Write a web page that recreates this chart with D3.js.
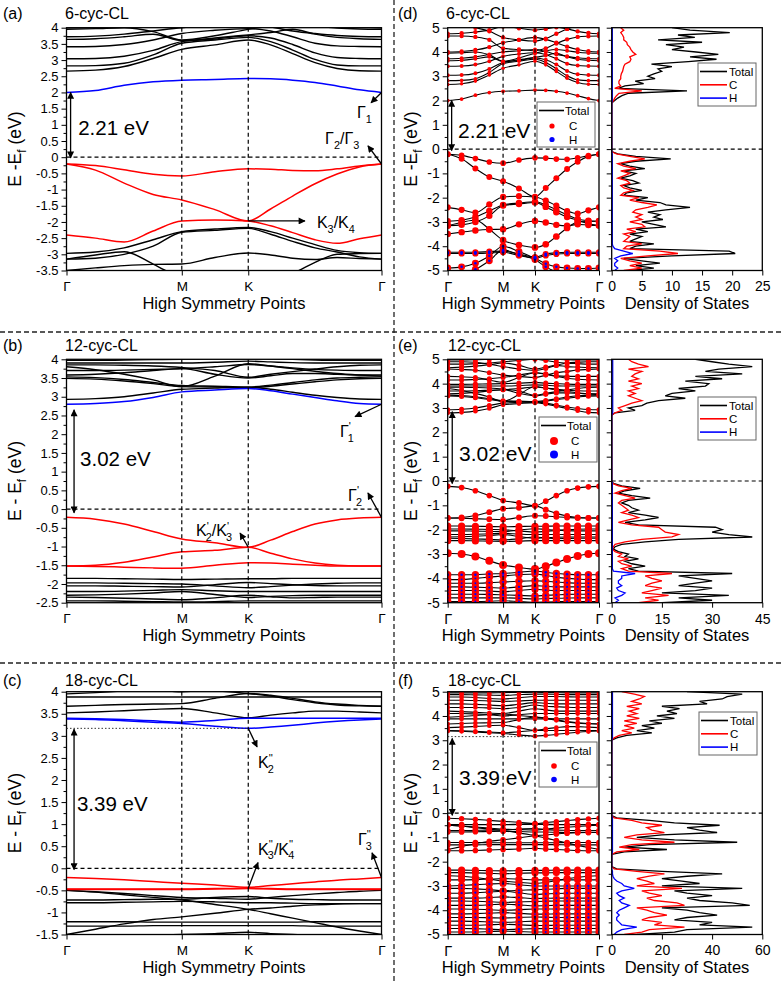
<!DOCTYPE html>
<html>
<head>
<meta charset="utf-8">
<script src="https://cdn.jsdelivr.net/npm/d3@7"></script>
<style>
body { margin: 0; background: #fff; }
svg { display: block; font-family: "Liberation Sans", Arial, sans-serif; }
</style>
</head>
<body>
<div id="chart"></div>
<script>
var W = 782, H = 982;

// k path Γ-M-K-Γ (fraction of path length), hexagonal BZ
var kGrid = [0, 0.092, 0.183, 0.275, 0.366, 0.471, 0.577, 0.648, 0.718, 0.789, 0.859, 0.930, 1];
var kTicks = [0, 0.366, 0.577, 1];
var kNames = ["Γ", "M", "K", "Γ"];
var dosE = d3.range(101).map(function(i) { return -5 + i / 10; });

// ---------- 6-cyc-CL bands ----------
var cyc6Blue = [
  [2.0, 2.06, 2.22, 2.33, 2.38, 2.4, 2.43, 2.42, 2.38, 2.31, 2.2, 2.08, 2.0]
];
var cyc6Red = [
  [-0.21, -0.26, -0.39, -0.53, -0.58, -0.45, -0.36, -0.37, -0.41, -0.42, -0.36, -0.27, -0.21],
  [-0.21, -0.4, -0.8, -1.15, -1.32, -1.62, -1.97, -1.6, -1.2, -0.82, -0.52, -0.3, -0.21],
  [-2.4, -2.5, -2.62, -2.28, -1.97, -1.94, -1.97, -2.12, -2.33, -2.55, -2.66, -2.52, -2.4]
];
var cyc6Black = [
  [2.66, 2.69, 2.8, 3.05, 3.33, 3.47, 3.62, 3.47, 3.2, 2.92, 2.74, 2.67, 2.66],
  [2.82, 2.83, 2.9, 3.16, 3.52, 3.62, 3.7, 3.57, 3.31, 3.02, 2.85, 2.82, 2.82],
  [3.04, 3.05, 3.12, 3.3, 3.57, 3.65, 3.75, 3.68, 3.48, 3.22, 3.08, 3.05, 3.04],
  [3.41, 3.42, 3.48, 3.62, 3.82, 3.92, 3.97, 3.9, 3.72, 3.52, 3.44, 3.42, 3.41],
  [3.64, 3.66, 3.72, 3.8, 3.6, 3.68, 3.78, 3.85, 3.95, 3.8, 3.7, 3.66, 3.64],
  [3.72, 3.74, 3.8, 3.9, 4.0, 4.05, 4.1, 4.02, 3.9, 3.82, 3.76, 3.73, 3.72],
  [3.95, 3.97, 4.0, 3.88, 3.62, 3.75, 3.95, 4.05, 4.1, 4.05, 3.99, 3.96, 3.95],
  [4.0, 4.02, 4.08, 4.2, 4.38, 4.5, 4.6, 4.52, 4.38, 4.22, 4.1, 4.03, 4.0],
  [4.66, 4.66, 4.62, 4.5, 4.15, 4.1, 4.05, 4.15, 4.35, 4.52, 4.62, 4.65, 4.66],
  [4.75, 4.77, 4.82, 4.9, 5.05, 4.98, 4.9, 4.95, 5.02, 4.95, 4.85, 4.78, 4.75],
  [5.2, 5.12, 5.0, 4.85, 4.6, 4.5, 4.45, 4.55, 4.75, 4.95, 5.08, 5.15, 5.2],
  [-2.97, -2.93, -2.8, -2.55, -2.3, -2.22, -2.17, -2.3, -2.5, -2.7, -2.88, -2.95, -2.97],
  [-3.15, -3.12, -3.0, -2.75, -2.32, -2.26, -2.2, -2.38, -2.6, -2.8, -2.93, -3.08, -3.15],
  [-3.5, -3.42, -3.35, -3.31, -3.3, -3.1, -2.96, -3.02, -3.12, -3.16, -3.1, -3.13, -3.15],
  [-3.15, -3.02, -2.92, -3.3, -3.75, -3.95, -4.05, -3.92, -3.6, -3.25, -3.0, -2.98, -2.97],
  [-4.25, -4.25, -4.25, -4.22, -4.2, -4.32, -4.45, -4.32, -4.27, -4.25, -4.25, -4.25, -4.25],
  [-4.3, -4.3, -4.3, -4.28, -4.25, -4.38, -4.5, -4.38, -4.32, -4.3, -4.3, -4.3, -4.3],
  [-4.9, -4.85, -4.7, -4.4, -4.0, -4.22, -4.5, -4.72, -4.85, -4.9, -4.92, -4.92, -4.9],
  [-5.2, -5.1, -4.95, -4.6, -4.15, -4.35, -4.55, -4.85, -5.05, -5.15, -5.2, -5.2, -5.2]
];
// fat-band weights (C, H) for blue, red, black bands
var cyc6BlueC = [0.22], cyc6BlueH = [0];
var cyc6RedC = [0.5, 0.55, 0.6], cyc6RedH = [0, 0, 0];
var cyc6BlackC = [0.2, 0.2, 0.25, 0.25, 0.25, 0.25, 0.25, 0.3, 0.3, 0.3, 0.3, 0.65, 0.65, 0.65, 0.7, 0.6, 0.6, 0.75, 0.75];
var cyc6BlackH = [0, 0, 0, 0, 0, 0, 0, 0, 0, 0, 0, 0, 0, 0, 0, 0.12, 0.12, 0.1, 0.1];

// ---------- 12-cyc-CL bands ----------
var cyc12Blue = [
  [2.8, 2.82, 2.87, 2.98, 3.13, 3.18, 3.22, 3.16, 3.07, 2.98, 2.89, 2.82, 2.8]
];
var cyc12Red = [
  [-0.22, -0.27, -0.4, -0.6, -0.8, -0.9, -1.02, -0.83, -0.6, -0.4, -0.29, -0.24, -0.22],
  [-1.52, -1.5, -1.42, -1.28, -1.14, -1.1, -1.02, -1.18, -1.33, -1.44, -1.5, -1.52, -1.52],
  [-1.52, -1.53, -1.55, -1.57, -1.58, -1.5, -1.43, -1.44, -1.47, -1.5, -1.52, -1.52, -1.52]
];
var cyc12Black = [
  [2.93, 2.95, 3.0, 3.1, 3.2, 3.23, 3.25, 3.2, 3.12, 3.04, 2.98, 2.94, 2.93],
  [3.49, 3.47, 3.42, 3.35, 3.27, 3.26, 3.24, 3.28, 3.34, 3.4, 3.45, 3.48, 3.49],
  [3.53, 3.51, 3.46, 3.38, 3.3, 3.28, 3.26, 3.31, 3.38, 3.45, 3.5, 3.52, 3.53],
  [3.58, 3.6, 3.64, 3.7, 3.75, 3.6, 3.5, 3.56, 3.62, 3.62, 3.6, 3.58, 3.58],
  [3.7, 3.7, 3.71, 3.73, 3.75, 3.8, 3.86, 3.82, 3.77, 3.73, 3.71, 3.7, 3.7],
  [3.8, 3.72, 3.6, 3.45, 3.27, 3.55, 3.88, 3.82, 3.75, 3.68, 3.62, 3.58, 3.55],
  [3.85, 3.85, 3.84, 3.82, 3.78, 3.7, 3.52, 3.6, 3.67, 3.74, 3.8, 3.84, 3.85],
  [3.9, 3.9, 3.9, 3.9, 3.9, 3.92, 3.95, 3.93, 3.91, 3.9, 3.9, 3.9, 3.9],
  [3.97, 3.97, 3.98, 3.99, 4.0, 4.02, 4.05, 4.02, 4.0, 3.98, 3.97, 3.97, 3.97],
  [4.15, 4.15, 4.17, 4.2, 4.25, 4.35, 4.45, 4.38, 4.3, 4.22, 4.18, 4.16, 4.15],
  [4.3, 4.28, 4.25, 4.15, 4.05, 4.25, 4.45, 4.4, 4.32, 4.3, 4.3, 4.3, 4.3],
  [4.6, 4.58, 4.55, 4.45, 4.35, 4.3, 4.25, 4.35, 4.45, 4.5, 4.56, 4.58, 4.6],
  [4.65, 4.68, 4.72, 4.78, 4.85, 4.75, 4.6, 4.68, 4.75, 4.7, 4.68, 4.66, 4.65],
  [4.8, 4.8, 4.82, 4.85, 4.9, 4.95, 5.0, 4.95, 4.88, 4.84, 4.82, 4.8, 4.8],
  [4.9, 4.9, 4.88, 4.8, 4.7, 4.6, 4.55, 4.62, 4.75, 4.85, 4.88, 4.9, 4.9],
  [4.97, 4.97, 4.98, 5.0, 5.05, 5.1, 5.1, 5.05, 5.0, 4.98, 4.97, 4.97, 4.97],
  [-1.85, -1.85, -1.86, -1.87, -1.88, -1.87, -1.86, -1.86, -1.85, -1.85, -1.85, -1.85, -1.85],
  [-1.97, -1.97, -1.98, -1.99, -2.0, -2.05, -2.1, -2.07, -2.03, -2.0, -1.98, -1.97, -1.97],
  [-2.05, -2.05, -2.06, -2.07, -2.08, -2.02, -1.96, -1.99, -2.02, -2.04, -2.05, -2.05, -2.05],
  [-2.2, -2.2, -2.19, -2.17, -2.15, -2.18, -2.2, -2.2, -2.2, -2.2, -2.2, -2.2, -2.2],
  [-2.3, -2.29, -2.27, -2.24, -2.2, -2.28, -2.36, -2.33, -2.31, -2.3, -2.3, -2.3, -2.3],
  [-2.35, -2.36, -2.38, -2.4, -2.42, -2.37, -2.3, -2.34, -2.37, -2.36, -2.35, -2.35, -2.35],
  [-2.45, -2.45, -2.46, -2.47, -2.48, -2.47, -2.45, -2.45, -2.45, -2.45, -2.45, -2.45, -2.45],
  [-2.97, -3.0, -3.1, -3.28, -3.45, -3.55, -3.62, -3.5, -3.35, -3.2, -3.08, -3.0, -2.97],
  [-3.85, -3.85, -3.85, -3.82, -3.8, -3.75, -3.7, -3.75, -3.8, -3.83, -3.85, -3.85, -3.85],
  [-4.05, -4.05, -4.0, -3.95, -3.9, -3.85, -3.82, -3.88, -3.95, -4.0, -4.03, -4.05, -4.05],
  [-4.2, -4.2, -4.2, -4.18, -4.15, -4.12, -4.1, -4.12, -4.15, -4.18, -4.2, -4.2, -4.2],
  [-4.35, -4.35, -4.36, -4.38, -4.4, -4.35, -4.3, -4.33, -4.35, -4.35, -4.35, -4.35, -4.35],
  [-4.5, -4.5, -4.5, -4.52, -4.55, -4.5, -4.45, -4.48, -4.5, -4.5, -4.5, -4.5, -4.5],
  [-4.65, -4.65, -4.65, -4.66, -4.68, -4.7, -4.72, -4.7, -4.68, -4.66, -4.65, -4.65, -4.65],
  [-4.8, -4.8, -4.8, -4.8, -4.8, -4.82, -4.85, -4.83, -4.82, -4.81, -4.8, -4.8, -4.8],
  [-4.95, -4.95, -4.95, -4.94, -4.92, -4.95, -4.98, -4.97, -4.96, -4.95, -4.95, -4.95, -4.95]
];
var cyc12BlueC = [0.35], cyc12BlueH = [0];
var cyc12RedC = [0.5, 0.55, 0.55], cyc12RedH = [0, 0, 0];
var cyc12BlackC = [0.4, 0.4, 0.4, 0.4, 0.4, 0.4, 0.4, 0.4, 0.4, 0.4, 0.4, 0.4, 0.4, 0.4, 0.4, 0.4,
  0.8, 0.8, 0.8, 0.8, 0.8, 0.8, 0.8, 1.0, 0.85, 0.85, 0.85, 0.85, 0.85, 0.85, 0.85, 0.85];
var cyc12BlackH = [0, 0, 0, 0, 0, 0, 0, 0, 0, 0, 0, 0, 0, 0, 0, 0,
  0, 0, 0, 0, 0, 0, 0, 0, 0.1, 0.06, 0.06, 0.08, 0.06, 0.08, 0.06, 0.06];

// ---------- 18-cyc-CL bands ----------
var cyc18Blue = [
  [3.4, 3.39, 3.37, 3.34, 3.31, 3.35, 3.4, 3.4, 3.4, 3.4, 3.4, 3.4, 3.4],
  [3.38, 3.37, 3.34, 3.31, 3.28, 3.22, 3.17, 3.2, 3.24, 3.29, 3.33, 3.36, 3.38]
];
var cyc18Red = [
  [-0.21, -0.23, -0.26, -0.3, -0.34, -0.38, -0.43, -0.39, -0.35, -0.31, -0.27, -0.24, -0.21],
  [-0.47, -0.47, -0.47, -0.47, -0.47, -0.46, -0.45, -0.46, -0.47, -0.47, -0.47, -0.47, -0.47],
  [-0.48, -0.48, -0.48, -0.48, -0.48, -0.47, -0.46, -0.47, -0.48, -0.48, -0.48, -0.48, -0.48]
];
var cyc18Black = [
  [3.52, 3.54, 3.57, 3.6, 3.62, 3.52, 3.41, 3.47, 3.52, 3.56, 3.56, 3.54, 3.52],
  [3.67, 3.69, 3.71, 3.72, 3.73, 3.85, 3.96, 3.92, 3.85, 3.77, 3.72, 3.69, 3.67],
  [3.88, 3.88, 3.88, 3.88, 3.88, 3.88, 3.88, 3.88, 3.88, 3.88, 3.88, 3.88, 3.88],
  [3.95, 3.98, 4.02, 4.05, 4.08, 4.02, 3.96, 3.9, 3.82, 3.75, 3.7, 3.68, 3.67],
  [4.1, 4.1, 4.08, 4.05, 4.0, 4.05, 4.1, 4.1, 4.1, 4.1, 4.1, 4.1, 4.1],
  [4.2, 4.18, 4.15, 4.12, 4.1, 4.2, 4.3, 4.25, 4.2, 4.2, 4.2, 4.2, 4.2],
  [4.35, 4.35, 4.35, 4.33, 4.3, 4.35, 4.45, 4.4, 4.38, 4.36, 4.35, 4.35, 4.35],
  [4.5, 4.5, 4.48, 4.45, 4.42, 4.48, 4.55, 4.52, 4.5, 4.5, 4.5, 4.5, 4.5],
  [4.65, 4.65, 4.64, 4.62, 4.6, 4.62, 4.65, 4.65, 4.65, 4.65, 4.65, 4.65, 4.65],
  [4.78, 4.78, 4.76, 4.72, 4.7, 4.75, 4.8, 4.8, 4.8, 4.79, 4.78, 4.78, 4.78],
  [4.88, 4.88, 4.87, 4.86, 4.85, 4.88, 4.9, 4.9, 4.89, 4.88, 4.88, 4.88, 4.88],
  [4.95, 4.95, 4.95, 4.95, 4.96, 4.97, 4.98, 4.97, 4.96, 4.95, 4.95, 4.95, 4.95],
  [-0.5, -0.53, -0.57, -0.62, -0.66, -0.68, -0.7, -0.66, -0.62, -0.58, -0.55, -0.52, -0.5],
  [-0.5, -0.54, -0.6, -0.66, -0.72, -0.82, -0.93, -1.03, -1.13, -1.23, -1.33, -1.42, -1.5],
  [-0.72, -0.72, -0.71, -0.7, -0.7, -0.66, -0.64, -0.68, -0.7, -0.71, -0.72, -0.72, -0.72],
  [-0.78, -0.78, -0.77, -0.76, -0.75, -0.76, -0.78, -0.78, -0.79, -0.8, -0.8, -0.8, -0.8],
  [-1.5, -1.38, -1.26, -1.16, -1.1, -1.02, -0.93, -0.9, -0.86, -0.83, -0.81, -0.8, -0.8],
  [-1.21, -1.21, -1.21, -1.22, -1.22, -1.22, -1.22, -1.22, -1.22, -1.21, -1.21, -1.21, -1.21],
  [-1.31, -1.31, -1.31, -1.3, -1.3, -1.3, -1.3, -1.3, -1.3, -1.31, -1.31, -1.31, -1.31],
  [-1.55, -1.55, -1.54, -1.52, -1.5, -1.48, -1.45, -1.48, -1.5, -1.52, -1.54, -1.55, -1.55],
  [-2.35, -2.35, -2.36, -2.37, -2.38, -2.37, -2.36, -2.36, -2.35, -2.35, -2.35, -2.35, -2.35],
  [-2.45, -2.45, -2.46, -2.48, -2.5, -2.48, -2.46, -2.46, -2.45, -2.45, -2.45, -2.45, -2.45],
  [-2.58, -2.6, -2.65, -2.72, -2.8, -2.85, -2.9, -2.85, -2.78, -2.7, -2.64, -2.6, -2.58],
  [-2.75, -2.75, -2.74, -2.72, -2.7, -2.72, -2.75, -2.75, -2.75, -2.75, -2.75, -2.75, -2.75],
  [-3.0, -2.98, -2.95, -2.92, -2.9, -2.95, -3.0, -3.0, -3.0, -3.0, -3.0, -3.0, -3.0],
  [-3.1, -3.1, -3.12, -3.15, -3.2, -3.18, -3.15, -3.14, -3.12, -3.1, -3.1, -3.1, -3.1],
  [-3.3, -3.3, -3.28, -3.25, -3.22, -3.28, -3.35, -3.33, -3.31, -3.3, -3.3, -3.3, -3.3],
  [-3.5, -3.5, -3.5, -3.48, -3.45, -3.48, -3.52, -3.51, -3.5, -3.5, -3.5, -3.5, -3.5],
  [-3.62, -3.62, -3.63, -3.65, -3.68, -3.66, -3.64, -3.63, -3.62, -3.62, -3.62, -3.62, -3.62],
  [-3.8, -3.8, -3.8, -3.78, -3.75, -3.78, -3.82, -3.81, -3.8, -3.8, -3.8, -3.8, -3.8],
  [-3.95, -3.95, -3.96, -3.98, -4.0, -3.98, -3.95, -3.95, -3.95, -3.95, -3.95, -3.95, -3.95],
  [-4.15, -4.15, -4.14, -4.12, -4.1, -4.13, -4.16, -4.16, -4.15, -4.15, -4.15, -4.15, -4.15],
  [-4.3, -4.3, -4.3, -4.31, -4.32, -4.3, -4.28, -4.29, -4.3, -4.3, -4.3, -4.3, -4.3],
  [-4.45, -4.45, -4.46, -4.48, -4.5, -4.48, -4.45, -4.45, -4.45, -4.45, -4.45, -4.45, -4.45],
  [-4.62, -4.62, -4.62, -4.6, -4.58, -4.6, -4.63, -4.63, -4.62, -4.62, -4.62, -4.62, -4.62],
  [-4.75, -4.75, -4.76, -4.78, -4.8, -4.78, -4.76, -4.76, -4.75, -4.75, -4.75, -4.75, -4.75],
  [-4.9, -4.9, -4.9, -4.88, -4.86, -4.88, -4.9, -4.9, -4.9, -4.9, -4.9, -4.9, -4.9]
];
var cyc18BlueC = [0.35, 0.35], cyc18BlueH = [0, 0];
var cyc18RedC = [0.45, 0.45, 0.45], cyc18RedH = [0, 0, 0];
var cyc18BlackC = [0.35, 0.35, 0.35, 0.35, 0.35, 0.35, 0.35, 0.35, 0.35, 0.35, 0.35, 0.35,
  0.5, 0.5, 0.5, 0.5, 0.5, 0.5, 0.5, 0.5,
  0.8, 0.8, 0.8, 0.8, 0.8, 0.8, 0.8, 0.8, 0.8, 0.8, 0.8, 0.8, 0.8, 0.8, 0.8, 0.8, 0.8];
var cyc18BlackH = [0, 0, 0, 0, 0, 0, 0, 0, 0, 0, 0, 0,
  0, 0, 0, 0, 0, 0, 0, 0,
  0, 0, 0, 0, 0.08, 0.06, 0.08, 0.06, 0.06, 0.08, 0.06, 0.06, 0.08, 0.06, 0.06, 0.08, 0.06];

// ---------- DOS on dosE grid (-5 ... 5 eV, step 0.1) ----------
var dos6Total = [3, 7, 4, 8, 5, 2, 10, 20.5, 19.5, 3, 4, 7, 3, 4, 5, 3, 6, 4, 9, 7, 5, 8.5, 7, 8, 6, 9, 13, 9, 8, 4,
  6, 2, 2.5, 5, 3, 2, 4.5, 3.5, 1.5, 3, 4, 2, 5.5, 3, 1.5, 4, 9.8, 4, 1, 0,
  0, 0, 0, 0, 0, 0, 0, 0, 0, 0, 0, 0, 0, 0, 0, 0, 0, 0, 0, 0,
  0.5, 1, 1.7, 2.8, 12.5, 1.1, 2.2, 5.3, 3.9, 7.2, 6, 7, 8.3, 7.7, 10, 6.6, 12.7, 17.4, 13, 17.7, 14, 10, 12, 9, 15, 7.7, 13.8, 11, 19.6, 13, 10];
var dos6C = [2, 5, 3, 5, 3, 1.5, 6, 11, 8, 2, 2.5, 5, 2, 2.5, 3, 2, 4, 2.5, 5.5, 5, 3, 5, 4, 5, 3.5, 4, 6, 7.5, 5, 3,
  4.5, 1.5, 2, 3.5, 2, 1.5, 3, 2.5, 1, 2, 3, 1.5, 4, 2, 1, 3, 5.5, 3, 0.8, 0,
  0, 0, 0, 0, 0, 0, 0, 0, 0, 0, 0, 0, 0, 0, 0, 0, 0, 0, 0, 0,
  0.3, 0.5, 0.8, 1.2, 5, 0.5, 1.5, 1.2, 1.2, 1.5, 1.5, 1.6, 1.8, 1.9, 2, 2.2, 3, 3.2, 3, 4, 3.5, 3.2, 3, 2.6, 2.5, 2, 2, 1.8, 1.5, 2, 1.5];
var dos6H = [0.5, 1, 0.5, 0.5, 1, 0.5, 1.5, 3.5, 2, 0.5, 0.2, 0.1, 0.1, 0.1, 0.1, 0.1, 0.1, 0.1, 0.1, 0.1,
  0.1, 0.1, 0.1, 0.1, 0.1, 0.1, 0.1, 0.1, 0.1, 0.1, 0.1, 0.1, 0.1, 0.1, 0.1, 0.1, 0.1, 0.1, 0.1, 0.1,
  0.1, 0.1, 0.1, 0.1, 0.1, 0.1, 0.1, 0.1, 0.1, 0,
  0, 0, 0, 0, 0, 0, 0, 0, 0, 0, 0, 0, 0, 0, 0, 0, 0, 0, 0, 0,
  0.1, 0.1, 0.1, 0.1, 0.1, 0.1, 0.1, 0.1, 0.1, 0.1, 0.1, 0.1, 0.1, 0.1, 0.1, 0.1, 0.1, 0.1, 0.1, 0.1,
  0.1, 0.1, 0.1, 0.1, 0.1, 0.1, 0.1, 0.1, 0.1, 0.1, 0.1];

var dos12Total = [15, 30, 20, 35, 15, 25, 30, 20, 25, 30, 25, 20, 36, 8, 5, 10, 6, 4, 8, 4, 5, 2, 0.5, 1, 3, 10, 20, 42, 35, 30,
  33, 31, 8, 4, 10, 14, 10, 5, 8, 6, 5, 3, 5, 11.5, 6, 2, 4, 8.5, 3, 0.5,
  0, 0, 0, 0, 0, 0, 0, 0, 0, 0, 0, 0, 0, 0, 0, 0, 0, 0, 0, 0, 0, 0, 0, 0, 0, 0, 0, 0,
  1, 7, 5, 9, 10.5, 14, 22, 16, 18, 25, 20, 28, 29, 22, 33, 25, 39, 28, 32, 42, 35, 30, 25];
var dos12C = [8, 14, 10, 17, 9, 12, 15, 10, 12, 15, 12, 10, 18, 5, 3, 6, 3, 2, 5, 2, 3, 1, 0.2, 0.5, 1, 4, 9, 18, 20, 16,
  15, 14, 6, 2, 5, 8, 6, 3, 5, 4, 3, 2, 3, 7, 4, 1, 3, 6, 2, 0.3,
  0, 0, 0, 0, 0, 0, 0, 0, 0, 0, 0, 0, 0, 0, 0, 0, 0, 0, 0, 0, 0, 0, 0, 0, 0, 0, 0, 0,
  1, 3, 2, 4, 6, 9, 7, 5, 7, 5, 8, 6, 9, 5, 8, 6, 7, 9, 5, 11, 8, 6, 5];
var dos12H = [1, 2, 1, 3, 4, 2, 1.5, 3, 2, 2, 3, 3, 7, 0.5,
  0.2, 0.2, 0.2, 0.2, 0.2, 0.2, 0.2, 0.2, 0.2, 0.2, 0.2, 0.2, 0.2, 0.2, 0.2, 0.2, 0.2, 0.2,
  0.2, 0.2, 0.2, 0.2, 0.2, 0.2, 0.2, 0.2, 0.2, 0.2, 0.2, 0.2, 0.2, 0.2, 0.2, 0.2, 0.2, 0.2,
  0, 0, 0, 0, 0, 0, 0, 0, 0, 0, 0, 0, 0, 0, 0, 0, 0, 0, 0, 0, 0, 0, 0, 0, 0, 0, 0, 0,
  0.3, 0.3, 0.3, 0.3, 0.3, 0.3, 0.3, 0.3, 0.3, 0.3, 0.3, 0.3, 0.3, 0.3, 0.3, 0.3, 0.3, 0.3, 0.3, 0.3, 0.3, 0.3, 0.3];

var dos18Total = [10, 25, 30, 56, 35, 40, 25, 30, 42, 35, 30, 20, 55, 48, 35, 30, 40, 30, 25, 52, 20, 35, 28, 20, 30, 44, 20, 2, 0, 0,
  0, 0, 0, 0, 5, 22, 5, 15, 50, 25, 10, 20, 42, 35, 30, 43, 25, 15, 2, 0,
  0, 0, 0, 0, 0, 0, 0, 0, 0, 0, 0, 0, 0, 0, 0, 0, 0, 0, 0, 0, 0, 0, 0, 0, 0, 0, 0, 0, 0, 0, 0,
  2, 6, 16, 10, 17, 12, 20, 15, 25, 18, 26, 22, 27, 20, 38, 35, 44, 46, 52, 30];
var dos18C = [5, 12, 15, 29, 17, 20, 12, 15, 22, 17, 14, 10, 29, 26, 17, 14, 20, 15, 12, 28, 10, 17, 14, 10, 15, 21, 10, 1, 0, 0,
  0, 0, 0, 0, 2, 11, 3, 8, 25, 12, 5, 10, 21, 16, 14, 20, 12, 8, 1, 0,
  0, 0, 0, 0, 0, 0, 0, 0, 0, 0, 0, 0, 0, 0, 0, 0, 0, 0, 0, 0, 0, 0, 0, 0, 0, 0, 0, 0, 0, 0, 0,
  1, 3, 8, 4, 9, 5, 10, 5, 11, 6, 10, 7, 11, 6, 12, 8, 11, 13, 9, 4];
var dos18H = [1, 2, 4, 10, 4, 3, 2, 2, 3, 2, 3, 5, 7, 4, 3, 5, 3, 2, 4, 9, 5, 4, 2, 1, 0.5, 0.3, 0.3, 0,
  0, 0, 0, 0, 0, 0,
  0.3, 0.3, 0.3, 0.3, 0.3, 0.3, 0.3, 0.3, 0.3, 0.3, 0.3, 0.3, 0.3, 0.3, 0.3, 0,
  0, 0, 0, 0, 0, 0, 0, 0, 0, 0, 0, 0, 0, 0, 0, 0, 0, 0, 0, 0, 0, 0, 0, 0, 0, 0, 0, 0, 0, 0, 0,
  0.3, 0.3, 0.3, 0.3, 0.3, 0.3, 0.3, 0.3, 0.3, 0.3, 0.3, 0.3, 0.3, 0.3, 0.3, 0.3, 0.3, 0.3, 0.3, 0.3];

// ---------- drawing ----------
var svg = d3.select("#chart").append("svg").attr("width", W).attr("height", H);
svg.append("rect").attr("width", W).attr("height", H).attr("fill", "#fff");
var defs = svg.append("defs");
defs.append("marker").attr("id", "head").attr("viewBox", "0 0 10 10")
  .attr("refX", 9).attr("refY", 5).attr("markerWidth", 8).attr("markerHeight", 7)
  .attr("markerUnits", "userSpaceOnUse").attr("orient", "auto-start-reverse")
  .append("path").attr("d", "M0,0L10,5L0,10z").attr("fill", "#000");

var clipCount = 0;
var rScale = d3.scaleSqrt().domain([0, 1]).range([0, 4]);
var rows = [{ y0: 27.7, y1: 270.5 }, { y0: 359.3, y1: 602.7 }, { y0: 691.7, y1: 934.5 }];

function fmt(d) { return String(+d.toFixed(2)); }

function steps(a, b, s) { return d3.range(Math.round((b - a) / s) + 1).map(function(i) { return a + i * s; }); }

function richText(g, x, y, parts, fs) {
  var t = g.append("text").attr("x", x).attr("y", y).attr("font-size", fs).attr("fill", "#000");
  var cur = 0;
  parts.forEach(function(p) {
    var off = p[1] === "sub" ? fs * 0.3 : p[1] === "sup" ? -fs * 0.4 : 0;
    var s = t.append("tspan").attr("dy", off - cur).text(p[0]);
    if (p[1]) s.attr("font-size", fs * 0.68);
    if (p[2] != null) s.attr("dx", p[2]);
    cur = off;
  });
  return t;
}

function clip(x0, y0, w, h) {
  var id = "clip" + (clipCount++);
  defs.append("clipPath").attr("id", id).append("rect").attr("x", x0).attr("y", y0).attr("width", w).attr("height", h);
  return "url(#" + id + ")";
}

function yAxes(g, y, x0, major, minor, labels, fs) {
  var a = g.append("g").attr("transform", "translate(" + x0 + ",0)")
    .call(d3.axisLeft(y).tickValues(major).tickSize(5).tickPadding(3).tickFormat(labels ? fmt : ""));
  a.select(".domain").remove();
  a.selectAll("text").attr("font-size", fs).attr("font-family", "Liberation Sans, Arial, sans-serif").attr("fill", "#000");
  a.selectAll("line").attr("stroke", "#000");
  var m = g.append("g").attr("transform", "translate(" + x0 + ",0)")
    .call(d3.axisLeft(y).tickValues(minor).tickSize(3).tickFormat(""));
  m.select(".domain").remove();
  m.selectAll("line").attr("stroke", "#000");
}

function bandPanel(o) {
  var x = d3.scaleLinear().domain([0, 1]).range([o.x0, o.x1]);
  var y = d3.scaleLinear().domain(o.yDom).range([o.y1, o.y0]);
  var g = svg.append("g");
  var plot = g.append("g").attr("clip-path", clip(o.x0, o.y0, o.x1 - o.x0, o.y1 - o.y0));
  var line = d3.line().x(function(d, i) { return x(kGrid[i]); }).y(function(d) { return y(d); }).curve(d3.curveMonotoneX);

  o.groups.forEach(function(gr) {
    plot.append("g").selectAll("path").data(gr.bands).join("path")
      .attr("d", line).attr("fill", "none").attr("stroke", gr.color).attr("stroke-width", gr.width);
  });

  if (o.fat) {
    var pts = [];
    o.fat.forEach(function(gr) {
      gr.bands.forEach(function(b, j) {
        b.forEach(function(e, i) { pts.push({ k: kGrid[i], e: e, c: gr.wC[j], h: gr.wH[j] }); });
      });
    });
    plot.append("g").selectAll("circle").data(pts.filter(function(p) { return p.c > 0; })).join("circle")
      .attr("cx", function(d) { return x(d.k); }).attr("cy", function(d) { return y(d.e); })
      .attr("r", function(d) { return rScale(d.c); }).attr("fill", "#ff0000");
    plot.append("g").selectAll("circle").data(pts.filter(function(p) { return p.h > 0; })).join("circle")
      .attr("cx", function(d) { return x(d.k); }).attr("cy", function(d) { return y(d.e); })
      .attr("r", function(d) { return rScale(d.h); }).attr("fill", "#0000ff");
  }

  // dashed guides
  plot.append("g").selectAll("line").data([kTicks[1], kTicks[2]]).join("line")
    .attr("x1", function(d) { return x(d); }).attr("x2", function(d) { return x(d); })
    .attr("y1", o.y0).attr("y2", o.y1)
    .attr("stroke", "#000").attr("stroke-width", 1.2).attr("stroke-dasharray", "4,3");
  plot.append("line").attr("x1", o.x0).attr("x2", o.x1).attr("y1", y(0)).attr("y2", y(0))
    .attr("stroke", "#000").attr("stroke-width", 1.2).attr("stroke-dasharray", "4,3");

  g.append("rect").attr("x", o.x0).attr("y", o.y0).attr("width", o.x1 - o.x0).attr("height", o.y1 - o.y0)
    .attr("fill", "none").attr("stroke", "#000").attr("stroke-width", 1.3);

  yAxes(g, y, o.x0, o.major, o.minor, true, o.fs);
  var xa = g.append("g").attr("transform", "translate(0," + o.y1 + ")")
    .call(d3.axisBottom(x).tickValues(kTicks).tickSize(5).tickPadding(6)
      .tickFormat(function(d, i) { return kNames[i]; }));
  xa.select(".domain").remove();
  xa.selectAll("text").attr("font-size", o.fs + 0.5).attr("font-family", "Liberation Sans, Arial, sans-serif").attr("fill", "#000");
  xa.selectAll("line").attr("stroke", "#000");

  g.append("text").attr("x", (o.x0 + o.x1) / 2).attr("y", o.y1 + 38).attr("text-anchor", "middle")
    .attr("font-size", 16.5).text("High Symmetry Points");

  // gap arrow and label
  g.append("line").attr("x1", x(o.gap.k)).attr("x2", x(o.gap.k)).attr("y1", y(o.gap.top)).attr("y2", y(o.gap.bot))
    .attr("stroke", "#000").attr("stroke-width", 1.3)
    .attr("marker-start", "url(#head)").attr("marker-end", "url(#head)");
  g.append("text").attr("x", x(o.gap.tk)).attr("y", y(o.gap.te)).attr("font-size", o.gap.fs).text(o.gap.text);
  if (o.cbmLine) {
    g.append("line").attr("x1", o.x0).attr("x2", x(kTicks[2])).attr("y1", y(o.cbmLine)).attr("y2", y(o.cbmLine))
      .attr("stroke", "#333").attr("stroke-width", 1).attr("stroke-dasharray", "1.5,2");
  }
  return { x: x, y: y, g: g };
}

function yLabel(xc, yc, tight) {
  var t = svg.append("text").attr("transform", "translate(" + xc + "," + yc + ") rotate(-90)")
    .attr("text-anchor", "middle").attr("font-size", 17.5);
  t.append("tspan").text(tight ? "E -E" : "E - E");
  t.append("tspan").attr("dy", 5).attr("font-size", 12).text("f");
  t.append("tspan").attr("dy", -5).text(" (eV)");
}

function titles(x, tag, tx, name, yb) {
  svg.append("text").attr("x", x).attr("y", yb).attr("font-size", 16).text(tag);
  svg.append("text").attr("x", tx).attr("y", yb).attr("font-size", 16).text(name);
}

function arrow(p, from, to) {
  p.g.append("line").attr("x1", p.x(from[0])).attr("y1", p.y(from[1]))
    .attr("x2", p.x(to[0])).attr("y2", p.y(to[1]))
    .attr("stroke", "#000").attr("stroke-width", 1.3).attr("marker-end", "url(#head)");
}

function dosPanel(row, xMax, xTicks, total, c, h, leg) {
  var x0 = 611.7, x1 = 762.3;
  var x = d3.scaleLinear().domain([0, xMax]).range([x0, x1]);
  var y = d3.scaleLinear().domain([-5, 5]).range([row.y1, row.y0]);
  var g = svg.append("g");
  var plot = g.append("g").attr("clip-path", clip(x0, row.y0, x1 - x0, row.y1 - row.y0));
  var line = d3.line().x(function(d) { return x(d[1]); }).y(function(d) { return y(d[0]); });
  [[total, "#000"], [c, "#ff0000"], [h, "#0000ff"]].forEach(function(s) {
    plot.append("path").datum(dosE.map(function(e, i) { return [e, s[0][i] || 0]; }))
      .attr("d", line).attr("fill", "none").attr("stroke", s[1]).attr("stroke-width", 1.3);
  });
  plot.append("line").attr("x1", x0).attr("x2", x1).attr("y1", y(0)).attr("y2", y(0))
    .attr("stroke", "#000").attr("stroke-width", 1.2).attr("stroke-dasharray", "4,3");
  g.append("rect").attr("x", x0).attr("y", row.y0).attr("width", x1 - x0).attr("height", row.y1 - row.y0)
    .attr("fill", "none").attr("stroke", "#000").attr("stroke-width", 1.3);
  yAxes(g, y, x0, steps(-5, 5, 1), steps(-4.5, 4.5, 1), false, 14);
  var xa = g.append("g").attr("transform", "translate(0," + row.y1 + ")")
    .call(d3.axisBottom(x).tickValues(xTicks).tickSize(5).tickPadding(6).tickFormat(fmt));
  xa.select(".domain").remove();
  xa.selectAll("text").attr("font-size", 14).attr("font-family", "Liberation Sans, Arial, sans-serif").attr("fill", "#000");
  xa.selectAll("line").attr("stroke", "#000");
  g.append("text").attr("x", (x0 + x1) / 2).attr("y", row.y1 + 38).attr("text-anchor", "middle")
    .attr("font-size", 16.5).text("Density of States");

  // legend
  var lg = g.append("g").attr("transform", "translate(" + leg[0] + "," + leg[1] + ")");
  lg.append("rect").attr("width", 58).attr("height", 43).attr("fill", "#fff").attr("stroke", "#666").attr("stroke-width", 1);
  [["Total", "#000"], ["C", "#ff0000"], ["H", "#0000ff"]].forEach(function(d, i) {
    var yy = 8.5 + i * 13.3;
    lg.append("line").attr("x1", 2).attr("x2", 29).attr("y1", yy).attr("y2", yy).attr("stroke", d[1]).attr("stroke-width", 1.6);
    lg.append("text").attr("x", 31).attr("y", yy + 4.2).attr("font-size", 11.5).text(d[0]);
  });
}

function fatLegend(pos, r) {
  var lg = svg.append("g").attr("transform", "translate(" + pos[0] + "," + pos[1] + ")");
  lg.append("rect").attr("width", 58).attr("height", 45).attr("fill", "#fff").attr("stroke", "#666").attr("stroke-width", 1);
  lg.append("line").attr("x1", 2).attr("x2", 27).attr("y1", 8.5).attr("y2", 8.5).attr("stroke", "#000").attr("stroke-width", 1.6);
  lg.append("text").attr("x", 28).attr("y", 12.7).attr("font-size", 11.5).text("Total");
  [["C", "#ff0000", 24], ["H", "#0000ff", 37.5]].forEach(function(d) {
    lg.append("circle").attr("cx", 15).attr("cy", d[2]).attr("r", r).attr("fill", d[1]);
    lg.append("text").attr("x", 32).attr("y", d[2] + 4.2).attr("font-size", 11.5).text(d[0]);
  });
}

// separators
svg.append("g").selectAll("line").data([332, 663]).join("line")
  .attr("x1", 0).attr("x2", W).attr("y1", function(d) { return d; }).attr("y2", function(d) { return d; })
  .attr("stroke", "#222").attr("stroke-width", 1.3).attr("stroke-dasharray", "5,3");
svg.append("line").attr("x1", 394).attr("x2", 394).attr("y1", 0).attr("y2", H)
  .attr("stroke", "#222").attr("stroke-width", 1.3).attr("stroke-dasharray", "5,3");

var systems = [
  { blue: cyc6Blue, red: cyc6Red, black: cyc6Black, bC: cyc6BlueC, bH: cyc6BlueH, rC: cyc6RedC, rH: cyc6RedH, kC: cyc6BlackC, kH: cyc6BlackH },
  { blue: cyc12Blue, red: cyc12Red, black: cyc12Black, bC: cyc12BlueC, bH: cyc12BlueH, rC: cyc12RedC, rH: cyc12RedH, kC: cyc12BlackC, kH: cyc12BlackH },
  { blue: cyc18Blue, red: cyc18Red, black: cyc18Black, bC: cyc18BlueC, bH: cyc18BlueH, rC: cyc18RedC, rH: cyc18RedH, kC: cyc18BlackC, kH: cyc18BlackH }
];
var names = ["6-cyc-CL", "12-cyc-CL", "18-cyc-CL"];
var leftDom = [[-3.5, 4], [-2.5, 4], [-1.5, 4]];
var gapText = ["2.21 eV", "3.02 eV", "3.39 eV"];
var leftGap = [
  { k: 0.013, top: 2.0, bot: -0.02, tk: 0.037, te: 0.69 },
  { k: 0.024, top: 2.65, bot: -0.1, tk: 0.043, te: 1.15 },
  { k: 0.024, top: 3.15, bot: -0.03, tk: 0.033, te: 1.3 }
];
var rightGap = [
  { k: 0.026, top: 2.0, bot: -0.06, tk: 0.068, te: 0.44 },
  { k: 0.03, top: 2.85, bot: -0.1, tk: 0.075, te: 0.82 },
  { k: 0.03, top: 3.07, bot: -0.09, tk: 0.075, te: 1.15 }
];

var left = [], right = [];
systems.forEach(function(s, i) {
  var row = rows[i];
  var lg = leftGap[i];
  lg.text = gapText[i]; lg.fs = 20.5;
  left.push(bandPanel({
    x0: 66.5, x1: 381.5, y0: row.y0, y1: row.y1, yDom: leftDom[i],
    major: steps(leftDom[i][0], 4, 0.5), minor: steps(leftDom[i][0] + 0.25, 3.75, 0.5), fs: 13,
    groups: [{ bands: s.black, color: "#000", width: 1.4 }, { bands: s.red, color: "#ff0000", width: 1.5 }, { bands: s.blue, color: "#0000ff", width: 1.5 }],
    gap: lg, cbmLine: i === 2 ? 3.17 : null
  }));
  var rg = rightGap[i];
  rg.text = gapText[i]; rg.fs = 21;
  right.push(bandPanel({
    x0: 447.7, x1: 599, y0: row.y0, y1: row.y1, yDom: [-5, 5],
    major: steps(-5, 5, 1), minor: steps(-4.5, 4.5, 1), fs: 14,
    groups: [{ bands: s.black.concat(s.red, s.blue), color: "#000", width: 1.1 }],
    fat: [{ bands: s.black, wC: s.kC, wH: s.kH }, { bands: s.red, wC: s.rC, wH: s.rH }, { bands: s.blue, wC: s.bC, wH: s.bH }],
    gap: rg, cbmLine: i === 2 ? 3.15 : null
  }));
  yLabel(21, (row.y0 + row.y1) / 2, i === 0);
  yLabel(417, (row.y0 + row.y1) / 2, i === 0);
});

titles(3, "(a)", 65, names[0], 19);
titles(3, "(b)", 65, names[1], 351);
titles(3, "(c)", 65, names[2], 686);
titles(398, "(d)", 446, names[0], 19);
titles(398, "(e)", 448, names[1], 351);
titles(398, "(f)", 448, names[2], 686);

dosPanel(rows[0], 25, [0, 5, 10, 15, 20, 25], dos6Total, dos6C, dos6H, [698, 63]);
dosPanel(rows[1], 45, [0, 15, 30, 45], dos12Total, dos12C, dos12H, [698, 397]);
dosPanel(rows[2], 60, [0, 20, 40, 60], dos18Total, dos18C, dos18H, [699, 712]);

fatLegend([537, 102], 2.6);
fatLegend([539, 417], 4);
fatLegend([539, 742], 2.8);

// annotations, panel (a)
arrow(left[0], [1, 2.0], [0.967, 1.68]);
arrow(left[0], [1, -0.21], [0.957, 0.35]);
arrow(left[0], [0.577, -1.97], [0.757, -1.97]);
richText(left[0].g, left[0].x(0.922), left[0].y(1.21), [["Γ"], ["1", "sub"]], 16);
richText(left[0].g, left[0].x(0.821), left[0].y(0.41), [["Γ"], ["2", "sub"], ["/Γ"], ["3", "sub"]], 16);
richText(left[0].g, left[0].x(0.795), left[0].y(-2.18), [["K"], ["3", "sub"], ["/K"], ["4", "sub"]], 16);

// panel (b)
arrow(left[1], [1, 2.8], [0.916, 2.47]);
arrow(left[1], [1, -0.22], [0.957, 0.43]);
arrow(left[1], [0.577, -1.02], [0.551, -0.64]);
richText(left[1].g, left[1].x(0.868), left[1].y(1.93), [["Γ"], ["'", "sup"], ["1", "sub", -3]], 16);
richText(left[1].g, left[1].x(0.894), left[1].y(0.22), [["Γ"], ["'", "sup"], ["2", "sub", -3]], 16);
richText(left[1].g, left[1].x(0.411), left[1].y(-0.72), [["K"], ["'", "sup"], ["2", "sub", -3], ["/K"], ["'", "sup"], ["3", "sub", -3]], 16);

// panel (c)
arrow(left[2], [0.577, 3.17], [0.605, 2.75]);
arrow(left[2], [0.577, -0.45], [0.608, 0.13]);
arrow(left[2], [1, -0.21], [0.97, 0.35]);
richText(left[2].g, left[2].x(0.608), left[2].y(2.27), [["K"], ["''", "sup"], ["2", "sub", -5]], 16);
richText(left[2].g, left[2].x(0.608), left[2].y(0.31), [["K"], ["''", "sup"], ["3", "sub", -5], ["/K"], ["''", "sup"], ["4", "sub", -5]], 16);
richText(left[2].g, left[2].x(0.925), left[2].y(0.53), [["Γ"], ["''", "sup"], ["3", "sub", -5]], 16);
</script>
</body>
</html>
